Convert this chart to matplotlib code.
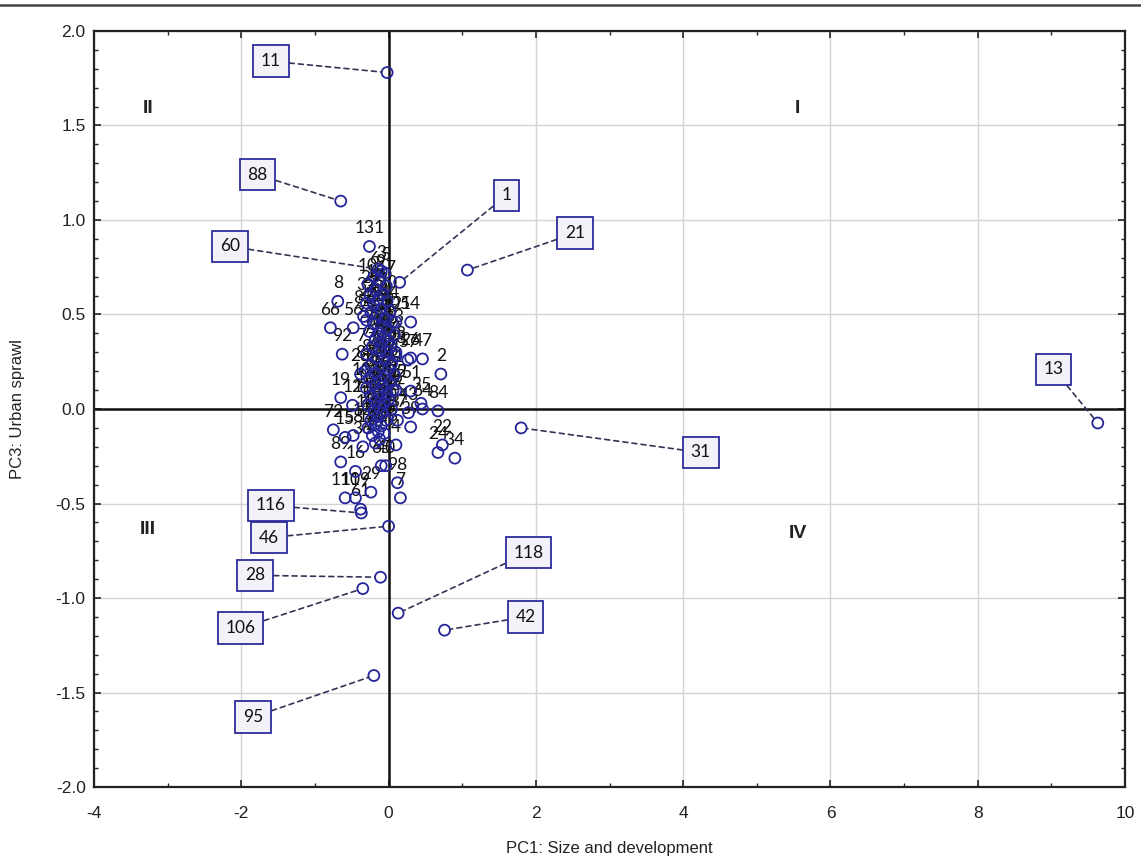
import matplotlib
matplotlib.use("Agg")
import matplotlib.pyplot as plt
from matplotlib.ticker import MultipleLocator, FormatStrFormatter
from matplotlib.lines import Line2D

plt.rcParams['axes.unicode_minus'] = False

# ---- data: plain-labelled points (PC1, PC3, id) ----
pt_x = [-0.26, -0.79, -0.48, -0.63, 0.30, 0.46, 0.71, 0.67, 0.73, 0.67, 0.90,
        0.27, 0.46, 0.12, 0.30, 0.10, -0.75, -0.48, -0.65, -0.45, -0.04, 0.12,
        0.16, -0.59, -0.45, -0.24, -0.38, 0.10, 0.26, 0.30, 0.10, -0.34, -0.69,
        -0.59, -0.65, -0.49, -0.38, 0.10, 0.30, 0.44, -0.10, -0.35,
        -0.10, -0.05, -0.20, -0.12, -0.28, -0.03, -0.18, -0.08, -0.25, -0.14, -0.02, -0.30, -0.20,
        -0.10, 0.02, -0.24, -0.15, -0.05, -0.30, 0.05, -0.20, -0.10, -0.02, -0.26, -0.14, 0.08, -0.06, -0.18, 0.00, -0.10,
        -0.22, 0.03, -0.12, -0.02, -0.30, 0.10, -0.16, -0.06, 0.04, -0.24, -0.10, 0.00, -0.32, -0.18, 0.08, -0.04, -0.26, -0.12,
        0.02, -0.20, -0.08, -0.30, 0.06, -0.14, -0.02, -0.24, -0.10, 0.00, -0.18, -0.06, -0.28, -0.12, 0.04, -0.20, -0.08, -0.15,
        -0.24, -0.04, -0.18, -0.10, -0.28, -0.14, -0.06, -0.22, -0.12, -0.18]
pt_y = [0.86, 0.43, 0.43, 0.29, 0.27, 0.265, 0.185, -0.01, -0.19, -0.23, -0.26,
        -0.02, 0.00, -0.06, -0.095, -0.19, -0.11, -0.14, -0.28, -0.33, -0.30, -0.39,
        -0.47, -0.47, -0.47, -0.44, -0.53, 0.30, 0.26, 0.46, 0.46, 0.49, 0.57,
        -0.15, 0.06, 0.02, 0.185, 0.10, 0.095, 0.03, -0.30, -0.20,
        0.73, 0.72, 0.70, 0.68, 0.66, 0.65, 0.63, 0.61, 0.60, 0.58, 0.57, 0.56, 0.55,
        0.53, 0.52, 0.51, 0.50, 0.48, 0.47, 0.46, 0.45, 0.44, 0.42, 0.41, 0.40, 0.39, 0.38, 0.37, 0.36, 0.35,
        0.33, 0.33, 0.31, 0.30, 0.29, 0.28, 0.27, 0.26, 0.24, 0.23, 0.22, 0.21, 0.20, 0.19, 0.18, 0.17, 0.16, 0.15,
        0.14, 0.13, 0.12, 0.11, 0.10, 0.09, 0.08, 0.07, 0.06, 0.05, 0.04, 0.03, 0.02, 0.01, 0.00, -0.01, -0.02, -0.04,
        -0.06, -0.06, -0.08, -0.09, -0.10, -0.12, -0.13, -0.14, -0.16, -0.18]
pt_id = ["131", "66", "56", "92", "26", "47", "2", "84", "22", "24", "34",
         "43", "64", "37", "39", "4", "72", "58", "89", "16", "40", "98",
         "7", "110", "119", "29", "61", "33", "57", "14", "105", "82", "8",
         "15", "19", "12", "23", "75", "51", "35", "65", "36",
         "3", "5", "6", "9", "10", "17", "18", "20", "25", "27", "30", "32", "38",
         "41", "44", "45", "48", "49", "50", "52", "53", "54", "55", "59", "62", "63", "67", "68", "69", "70",
         "71", "73", "74", "76", "77", "78", "79", "80", "81", "83", "85", "86", "87", "90", "91", "93", "94", "96",
         "97", "99", "100", "101", "102", "103", "104", "107", "108", "109", "111", "112", "113", "114", "115", "117", "120", "121",
         "122", "123", "124", "125", "126", "127", "128", "129", "130", "27"]

# ---- data: boxed outliers (id, point, label position) ----
box_id = ["11", "88", "60", "1", "21", "13", "31", "116", "46", "28", "106", "118", "42", "95"]
box_px = [-0.02, -0.65, -0.14, 0.15, 1.07, 9.63, 1.80, -0.37, 0.00, -0.11, -0.35, 0.13, 0.76, -0.20]
box_py = [1.78, 1.10, 0.74, 0.67, 0.735, -0.074, -0.10, -0.55, -0.62, -0.89, -0.95, -1.08, -1.17, -1.41]
box_lx = [-1.60, -1.78, -2.15, 1.60, 2.53, 9.03, 4.24, -1.60, -1.62, -1.81, -2.01, 1.90, 1.86, -1.84]
box_ly = [1.84, 1.24, 0.86, 1.13, 0.93, 0.21, -0.23, -0.51, -0.68, -0.88, -1.16, -0.76, -1.10, -1.63]

quad_txt = ["I", "II", "III", "IV"]
quad_x = [5.55, -3.27, -3.27, 5.56]
quad_y = [1.59, 1.59, -0.64, -0.66]

all_x = pt_x + box_px
all_y = pt_y + box_py

fig = plt.figure(figsize=(11.41, 8.58), dpi=100)
ax = fig.add_axes([0.0824, 0.0827, 0.9036, 0.8812])

narrow = ['Liberation Sans', 'DejaVu Sans']
lab_font = ['Lato', 'Open Sans', 'DejaVu Sans']
marker_col = '#25259a'

ax.set_xlim(-4, 10)
ax.set_ylim(-2, 2)
ax.xaxis.set_major_locator(MultipleLocator(2))
ax.xaxis.set_minor_locator(MultipleLocator(1))
ax.yaxis.set_major_locator(MultipleLocator(0.5))
ax.yaxis.set_minor_locator(MultipleLocator(0.1))
ax.yaxis.set_major_formatter(FormatStrFormatter('%.1f'))
ax.grid(True, which='major', color='#d4d4d4', linewidth=1.0, zorder=0)
ax.set_axisbelow(True)
ax.axhline(0, color='#111111', linewidth=1.8, zorder=1)
ax.axvline(0, color='#111111', linewidth=1.8, zorder=1)

ax.tick_params(which='both', direction='in', top=True, right=True, colors='#222222')
ax.tick_params(which='major', length=5, width=1.2, labelsize=12.5, pad=6)
ax.tick_params(axis='x', which='major', pad=14)
ax.tick_params(which='minor', length=3, width=1.0)
for lab in ax.get_xticklabels() + ax.get_yticklabels():
    lab.set_family(narrow)
for s in ax.spines.values():
    s.set_linewidth(1.6)
    s.set_color('#222222')

for x, y, t in zip(pt_x, pt_y, pt_id):
    ax.annotate(t, (x, y), xytext=(0, 13), textcoords='offset points',
                ha='center', va='center', fontsize=12.5, family=lab_font,
                color='#111111', zorder=3)

ax.scatter(all_x, all_y, s=62, facecolors='none', edgecolors=marker_col,
           linewidths=1.3, zorder=4)

for t, px, py, lx, ly in zip(box_id, box_px, box_py, box_lx, box_ly):
    ax.annotate(t, (px, py), xytext=(lx, ly), textcoords='data',
                ha='center', va='center', fontsize=12.5, family=lab_font,
                color='#111111', zorder=5,
                bbox=dict(boxstyle='square,pad=0.45', fc='#f2f2f8', ec='#2c2c9c', lw=1.3),
                arrowprops=dict(arrowstyle='-', linestyle=(0, (3, 2.5)), color='#333355',
                                lw=1.2, shrinkA=0, shrinkB=4))

for t, x, y in zip(quad_txt, quad_x, quad_y):
    ax.text(x, y, t, ha='center', va='center', fontsize=14, fontweight='bold',
            family=['Liberation Sans', 'DejaVu Sans'], color='#222222')

ax.set_xlabel('PC1: Size and development', fontsize=12, family=narrow, labelpad=14, color='#222222')
ax.set_ylabel('PC3: Urban sprawl', fontsize=12, family=narrow, labelpad=22, color='#222222')

fig.add_artist(Line2D([0, 1], [0.994, 0.994], transform=fig.transFigure, color='#444444', linewidth=1.8))

fig.savefig('out.png', dpi=100)
